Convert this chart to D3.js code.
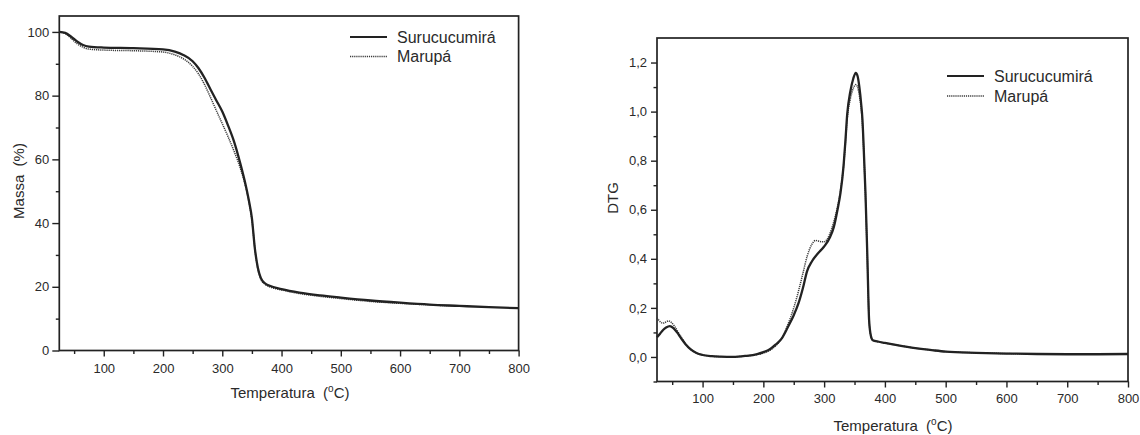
<!DOCTYPE html>
<html><head><meta charset="utf-8">
<script src="https://cdn.jsdelivr.net/npm/d3@7"></script>
<style>
html,body{margin:0;padding:0;background:#fff;}
svg{display:block;font-family:"Liberation Sans",Arial,sans-serif;}
text{fill:#2a2a2a;}
</style></head>
<body>
<svg id="chart" width="1140" height="435"></svg>
<script>
// ---------- DATA ----------
const seriesNames = ["Surucucumirá", "Marupá"];

// TG (mass %) – Surucucumirá
const tgSuruT = [25,35,45,55,65,75,100,150,200,220,235,250,260,270,280,290,300,310,320,330,340,345,350,355,360,365,372,380,400,430,465,500,550,600,650,700,750,800];
const tgSuruV = [100,99.7,98.5,97,95.9,95.4,95.1,94.9,94.5,93.8,92.7,90.8,88.6,85.6,82,78.5,75,70.5,65.5,59,51.5,47,41.5,32,26,22.8,21.1,20.3,19.3,18.2,17.3,16.6,15.7,15,14.4,14,13.6,13.3];
// TG (mass %) – Marupá
const tgMaruT = [25,35,45,55,65,75,100,150,200,220,235,250,260,270,280,290,300,310,320,330,340,345,350,355,360,365,372,380,400,430,465,500,550,600,650,700];
const tgMaruV = [100,99.5,98,96.3,95.2,94.6,94.3,94.1,93.7,92.8,91.5,89.2,86.8,83.5,79.5,75.3,71.2,67,62.5,57.5,51,46.5,41,32,25.5,22.3,20.8,20,19,17.9,17,16.3,15.4,14.8,14.3,13.9];

// DTG – Surucucumirá
const dtgSuruT = [25,30,35,40,46,52,58,65,72,80,90,100,115,130,150,170,190,200,210,220,230,240,250,258,265,272,280,290,300,310,316,322,327,332,335,338,343,348,352,355,358,361,363,365,368,371,374,377,380,390,400,420,450,480,500,550,600,650,700,750,800];
const dtgSuruV = [0.08,0.095,0.11,0.12,0.126,0.118,0.1,0.075,0.052,0.032,0.016,0.008,0.003,0.001,0.0,0.004,0.012,0.02,0.03,0.05,0.075,0.12,0.17,0.22,0.28,0.35,0.39,0.423,0.45,0.49,0.53,0.6,0.67,0.78,0.88,0.99,1.08,1.135,1.158,1.145,1.1,1.03,0.97,0.86,0.67,0.42,0.15,0.085,0.068,0.062,0.057,0.048,0.036,0.027,0.022,0.017,0.014,0.012,0.011,0.011,0.012];
// DTG – Marupá
const dtgMaruT = [25,28,32,36,40,44,48,54,60,66,72,80,90,100,115,130,150,170,190,200,210,220,230,240,250,258,265,272,280,286,295,300,305,312,318,325,332,335,338,343,348,352,355,358,361,363,365,368,371,374,377,380,390,400,420,450,480,500,550,600,650,700,750,800];
const dtgMaruV = [0.16,0.15,0.14,0.138,0.143,0.147,0.142,0.125,0.1,0.076,0.053,0.032,0.016,0.008,0.003,0.001,0.0,0.004,0.01,0.016,0.026,0.045,0.075,0.13,0.2,0.27,0.34,0.41,0.46,0.475,0.47,0.47,0.48,0.52,0.57,0.65,0.78,0.87,0.97,1.05,1.095,1.11,1.1,1.065,1.01,0.95,0.85,0.66,0.41,0.15,0.085,0.068,0.062,0.057,0.048,0.036,0.027,0.022,0.017,0.014,0.012,0.011,0.011,0.012];

const xTicks = [100,200,300,400,500,600,700,800];
const xMinor = [50,150,250,350,450,550,650,750];
const tgTicks = [0,20,40,60,80,100];
const tgMinor = [10,30,50,70,90];
const dtgTicks = [0,0.2,0.4,0.6,0.8,1.0,1.2];
const dtgMinor = [-0.1,0.1,0.3,0.5,0.7,0.9,1.1];

// ---------- DRAW ----------
const svg = d3.select("#chart");
const ink = "#222";
const zip = (a,b) => a.map((t,i)=>[t,b[i]]);
const commaFmt = d => d3.format(".1f")(d).replace(".", ",");

function panel(cfg){
  const x = d3.scaleLinear().domain(cfg.xDom).range([cfg.left, cfg.right]);
  const y = d3.scaleLinear().domain(cfg.yDom).range([cfg.bottom, cfg.top]);
  const g = svg.append("g");

  const xa = g.append("g").attr("transform",`translate(0,${cfg.bottom})`)
    .call(d3.axisBottom(x).tickValues(xTicks).tickSize(6).tickSizeOuter(0).tickPadding(cfg.xPad).tickFormat(d3.format("d")));
  const xm = g.append("g").attr("transform",`translate(0,${cfg.bottom})`)
    .call(d3.axisBottom(x).tickValues(xMinor).tickSize(3.5).tickSizeOuter(0).tickFormat(""));
  const ya = g.append("g").attr("transform",`translate(${cfg.left},0)`)
    .call(d3.axisLeft(y).tickValues(cfg.yTicks).tickSize(cfg.ySize).tickSizeOuter(0).tickPadding(cfg.yPad).tickFormat(cfg.yFmt));
  const ym = g.append("g").attr("transform",`translate(${cfg.left},0)`)
    .call(d3.axisLeft(y).tickValues(cfg.yMinor).tickSize(3.5).tickSizeOuter(0).tickFormat(""));
  [xa,xm,ya,ym].forEach(a=>{
    a.select(".domain").remove();
    a.selectAll("line").attr("stroke",ink).attr("stroke-width",1.4);
    a.selectAll("text").attr("font-size",13).attr("fill",ink)
      .attr("font-family",'"Liberation Sans",Arial,sans-serif');
  });

  g.append("rect").attr("x",cfg.left).attr("y",cfg.top)
    .attr("width",cfg.right-cfg.left).attr("height",cfg.bottom-cfg.top)
    .attr("fill","none").attr("stroke",ink).attr("stroke-width",1.7);

  const line = d3.line().x(d=>x(d[0])).y(d=>y(d[1])).curve(d3.curveMonotoneX);
  g.append("path").datum(cfg.s2).attr("d",line).attr("fill","none")
    .attr("stroke","#3a3a3a").attr("stroke-width",1.5).attr("stroke-dasharray","1.2,0.9");
  g.append("path").datum(cfg.s1).attr("d",line).attr("fill","none")
    .attr("stroke",ink).attr("stroke-width",2.3);

  const xt = g.append("text").attr("x",cfg.xtX).attr("y",cfg.xtY)
    .attr("text-anchor","middle").attr("font-size",15).style("white-space","pre");
  xt.append("tspan").text("Temperatura  (");
  xt.append("tspan").text("o").attr("font-size",10).attr("dy",-6);
  xt.append("tspan").text("C)").attr("dy",6);

  g.append("text").attr("transform",`translate(${cfg.ytX},${cfg.ytY}) rotate(-90)`)
    .attr("text-anchor","middle").attr("font-size",15).style("white-space","pre").text(cfg.yTitle);

  const lg = g.append("g");
  [0,1].forEach(i=>{
    const ly = cfg.legY + i*cfg.legGap;
    lg.append("line").attr("x1",cfg.legX).attr("x2",cfg.legX+37).attr("y1",ly).attr("y2",ly)
      .attr("stroke", i===0?ink:"#3a3a3a").attr("stroke-width", i===0?2.2:1.5)
      .attr("stroke-dasharray", i===0?null:"1.2,0.9");
    lg.append("text").attr("x",cfg.legX+47).attr("y",ly+5.5).attr("font-size",16).text(seriesNames[i]);
  });
}

panel({
  left:59.3, right:518.6, top:16, bottom:350.5,
  xDom:[25,800], yDom:[0,105],
  yTicks:tgTicks, yMinor:tgMinor, yFmt:d3.format("d"), ySize:7, yPad:3, xPad:7,
  s1:zip(tgSuruT,tgSuruV), s2:zip(tgMaruT,tgMaruV),
  xtX:290, xtY:398, ytX:24, ytY:181, yTitle:"Massa  (%)",
  legX:350, legY:37, legGap:19.5
});

panel({
  left:657, right:1128, top:38, bottom:381.5,
  xDom:[25,800], yDom:[-0.1,1.3],
  yTicks:dtgTicks, yMinor:dtgMinor, yFmt:commaFmt, ySize:6, yPad:4, xPad:6.5,
  s1:zip(dtgSuruT,dtgSuruV), s2:zip(dtgMaruT,dtgMaruV),
  xtX:893, xtY:431, ytX:618, ytY:198, yTitle:"DTG",
  legX:947, legY:76, legGap:20
});
</script>
</body></html>
